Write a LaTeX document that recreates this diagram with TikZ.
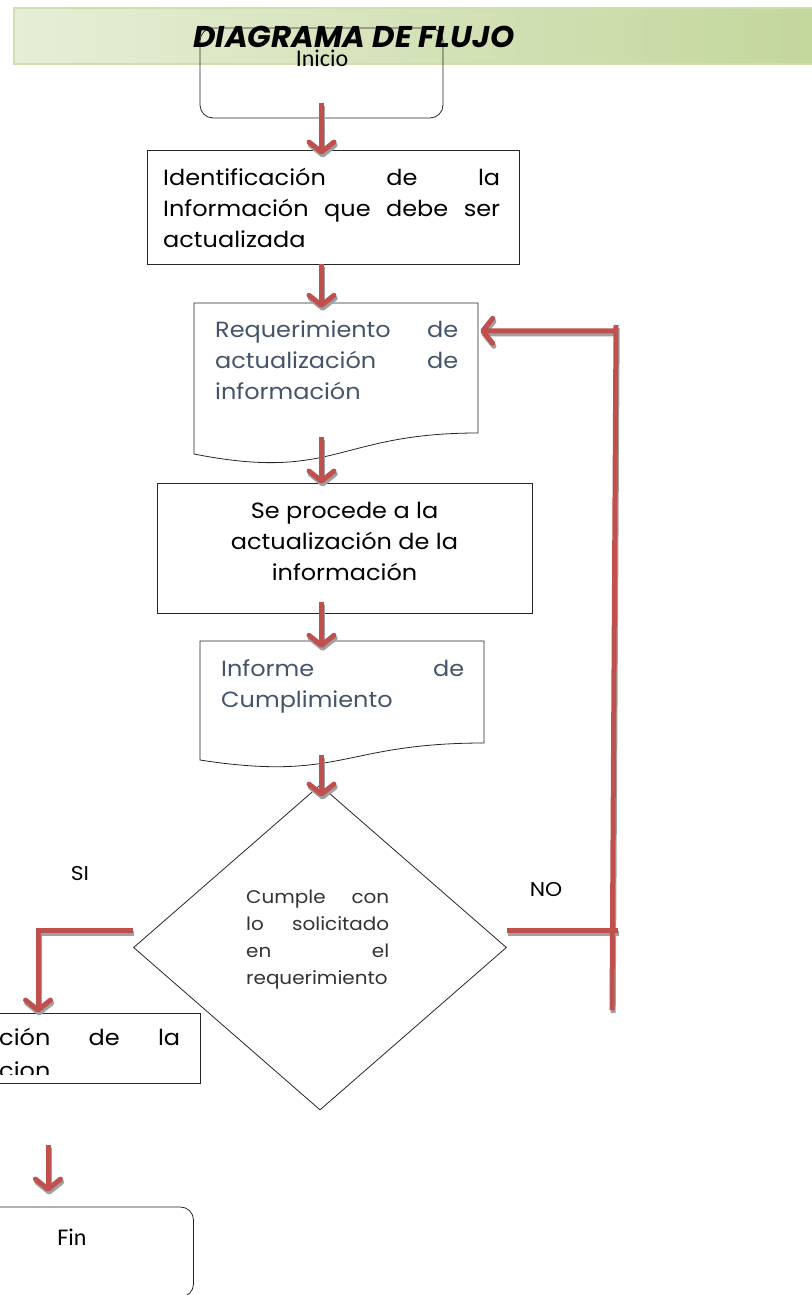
\documentclass[tikz,border=0pt]{standalone}
\usepackage{fontspec}
\setmainfont{Poppins}[FakeStretch=1.09]
\newfontfamily\titlefont{Poppins}[FakeStretch=1.03]
\newfontfamily\termfont{Carlito}
\usetikzlibrary{arrows.meta,shapes.geometric}

\definecolor{flowred}{RGB}{192,80,77}
\definecolor{shadowgray}{RGB}{160,160,160}
\definecolor{docblue}{RGB}{68,84,106}
\definecolor{bannerL}{RGB}{230,238,214}
\definecolor{bannerR}{RGB}{195,214,155}
\definecolor{bannerE}{RGB}{206,222,175}
\colorlet{linkcolor}{flowred}

% one justified line of a given width
\newcommand{\jline}[2]{\makebox[#1][s]{#2}}

% all red connectors of the chart; drawn once as a shadow, once in colour
\newcommand{\drawconnectors}{%
  \draw[flow] ([yshift=15pt]inicio.south) -- ([yshift=-5pt]ident.north -| inicio.south);
  \draw[flow] (inicio.south |- ident.south) -- ([yshift=-5pt]inicio.south |- req.north);
  \draw[flow] ([yshift=17pt]inicio.south |- req.south) -- ([yshift=-1pt]inicio.south |- proc.north);
  \draw[flow] ([yshift=11pt]inicio.south |- proc.south) -- ([yshift=-7pt]inicio.south |- inf.north);
  \draw[flow] ([yshift=5pt]inicio.south |- inf.south) -- ([yshift=-12pt]inicio.south |- dia.north);
  \draw[flow] ([yshift=17pt]dia.west) -| (pub.north);
  \draw[flowline] ([yshift=17pt]dia.east) -- (noJ);
  \draw[flowline] (noBot) -- (noTop);
  \draw[flow] ([yshift=-6pt]noTop) -- ([xshift=2pt,yshift=-28pt]req.north east);
  \draw[flow] (finA) -- ([xshift=-24pt,yshift=15pt]fin.north);
}

\begin{document}
\begin{tikzpicture}[x=1pt,y=-1pt,
  box/.style={draw=black!85, line width=0.9pt, rectangle, inner sep=0pt},
  term/.style={draw=black!85, line width=0.8pt, rounded corners=13pt, inner sep=0pt,
               minimum width=243pt, minimum height=90pt},
  anchorbox/.style={rectangle, inner sep=0pt},
  doc/.style={draw=black!85, line width=0.8pt},
  flowline/.style={draw=linkcolor, line width=5pt},
  flow/.style={flowline, -{Straight Barb[length=10pt,width=25pt,round]}},
  body/.style={font=\fontsize{22}{31}\selectfont, inner sep=0pt, anchor=base west},
  small/.style={font=\fontsize{18.3}{27}\selectfont, inner sep=0pt, anchor=base west},
  title/.style={font=\titlefont\fontsize{30}{30}\selectfont\bfseries\itshape, inner sep=0pt, anchor=base},
  termtext/.style={font=\termfont\fontsize{24}{24}\selectfont, inner sep=0pt, anchor=base},
  label/.style={font=\fontsize{20}{20}\selectfont, inner sep=0pt}
]
\useasboundingbox (0,0) rectangle (811,1295);

% header banner
\fill[left color=bannerL, right color=bannerR] (14,8) rectangle (830,64);
\draw[bannerE, line width=1.5pt] (830,8) -- (14,8) -- (14,64) -- (830,64);

% start terminal
\node[term] (inicio) at (321.5,73) {};
\node[termtext] (inicioT) at (322,67) {Inicio};
\node[title] (titleT) at (354,48) {DIAGRAMA DE FLUJO};

% identification step
\node[box, minimum width=372pt, minimum height=114pt] (ident) at (333,207) {};
\node[body] (identT) at (163,185) {\parbox[t]{337pt}{%
  \jline{337pt}{Identificación de la}\\
  \jline{337pt}{Información que debe ser}\\
  actualizada}};

% request document
\node[anchorbox, minimum width=284pt, minimum height=151pt] (req) at (336,378.5) {};
\draw[doc] (194,303) -- (478,303) -- (478,433)
  .. controls (336,433) and (336,482) .. (194,454) -- cycle;
\node[body, text=docblue] (reqT) at (215,337) {\parbox[t]{243pt}{%
  \jline{243pt}{Requerimiento de}\\
  \jline{243pt}{actualización de}\\
  información}};

% update step
\node[box, minimum width=375pt, minimum height=130pt] (proc) at (344.5,548) {};
\node[body, anchor=base] (procT) at (344.5,518) {\parbox[t]{340pt}{\centering
  Se procede a la\\
  actualización de la\\
  información}};

% compliance report document
\node[anchorbox, minimum width=284pt, minimum height=119pt] (inf) at (342,700.5) {};
\draw[doc] (200,641) -- (484,641) -- (484,743)
  .. controls (342,743) and (342,782) .. (200,760) -- cycle;
\node[body, text=docblue] (infT) at (221,676) {\parbox[t]{243pt}{%
  \jline{243pt}{Informe de}\\
  Cumplimiento}};

% decision
\node[diamond, draw=black!85, line width=0.8pt, inner sep=0pt,
      minimum width=373pt, minimum height=325pt] (dia) at (320,947.5) {};
\node[small, text=black!80] (diaT) at (246,903) {\parbox[t]{143pt}{%
  \jline{143pt}{Cumple con}\\
  \jline{143pt}{lo solicitado}\\
  \jline{143pt}{en el}\\
  \jline{143pt}{requerimiento}}};

\node[label] (si) at (80,873) {SI};
\node[label] (no) at (546,890) {NO};

% publication step
\node[box, minimum width=324pt, minimum height=70pt] (pub) at (38,1048) {};
\begin{scope}
  \clip (-10,1013) rectangle (200,1074);
  \node[body] (pubT) at (-1,1045) {\parbox[t]{181pt}{%
    \jline{181pt}{ción de la}\\[2pt]
    cion}};
\end{scope}

% end terminal
\node[term] (fin) at (72,1252) {};
\node[termtext] (finT) at (72,1245) {Fin};

% connector end points
\coordinate (noJ) at (618,930.5);
\coordinate (noTop) at (616,325);
\coordinate (noBot) at (612,1010);
\coordinate (finA) at (48,1145);

% connectors: grey shadow first, red on top
\begin{scope}[transform canvas={shift={(1.2pt,-3pt)}}]
  \colorlet{linkcolor}{shadowgray}
  \drawconnectors
\end{scope}
\colorlet{linkcolor}{flowred}
\drawconnectors
\end{tikzpicture}
\end{document}
